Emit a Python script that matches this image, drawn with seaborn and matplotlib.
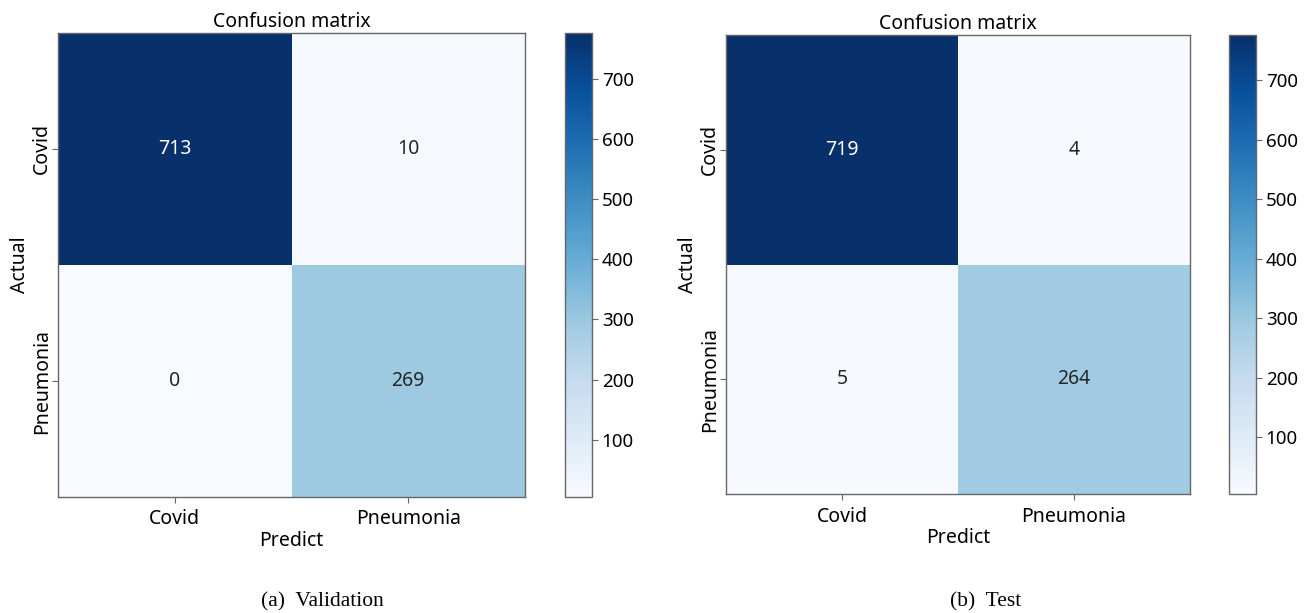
import numpy as np
import pandas as pd
import matplotlib
matplotlib.use("Agg")
import matplotlib.pyplot as plt
import matplotlib.colors as mcolors
import matplotlib.cm as cm
import seaborn as sns

# ---- data ----
classes = ["Covid", "Pneumonia"]
val_matrix = [[713, 10], [0, 269]]
test_matrix = [[719, 4], [5, 264]]
panel_title = "Confusion matrix"
captions = ["(a)  Validation", "(b)  Test"]
xlabel = "Predict"
ylabel = "Actual"
cbar_ticks = [100, 200, 300, 400, 500, 600, 700]
cbar_min, cbar_max = 5, 776
cell_min, cell_max = 0, 715

plt.rcParams['font.family'] = ['Noto Sans', 'DejaVu Sans']

W, H = 1309, 613
fig = plt.figure(figsize=(W / 100, H / 100), dpi=100)


def rect(x0, y0, x1, y1):
    return [x0 / W, 1 - y1 / H, (x1 - x0) / W, (y1 - y0) / H]


layouts = [
    dict(heat=(58, 33, 525, 497), cbar=(565, 33, 592, 497), cap_x=322),
    dict(heat=(726, 35, 1190, 494), cbar=(1229, 35, 1256, 494), cap_x=986),
]
matrices = [val_matrix, test_matrix]
edge = "#666666"

for mat, lay, cap in zip(matrices, layouts, captions):
    ax = fig.add_axes(rect(*lay["heat"]))
    cax = fig.add_axes(rect(*lay["cbar"]))
    df = pd.DataFrame(mat, index=classes, columns=classes)
    sns.heatmap(df, ax=ax, cbar=False, cmap="Blues", vmin=cell_min, vmax=cell_max,
                annot=True, fmt="d", annot_kws={"size": 14}, linewidths=0)
    for s in ax.spines.values():
        s.set_visible(True)
        s.set_color(edge)
        s.set_linewidth(1.0)
    ax.set_title(panel_title, fontsize=14, pad=4)
    ax.set_xlabel(xlabel, fontsize=14, labelpad=1)
    ax.set_ylabel(ylabel, fontsize=14, labelpad=1)
    ax.set_xticklabels(classes, rotation=0, fontsize=14)
    ax.set_yticklabels(classes, rotation=90, va="center", fontsize=14)
    ax.tick_params(axis="x", length=4, width=0.8, color=edge, pad=5)
    ax.tick_params(axis="y", length=4, width=0.8, color=edge, pad=0.5)

    sm = cm.ScalarMappable(norm=mcolors.Normalize(cbar_min, cbar_max), cmap="Blues")
    cb = fig.colorbar(sm, cax=cax)
    cb.set_ticks(cbar_ticks)
    cb.outline.set_edgecolor(edge)
    cb.outline.set_linewidth(1.0)
    cax.tick_params(labelsize=13.5, length=4, width=0.8, color=edge, pad=3)

    fig.text(lay["cap_x"] / W, 1 - 602 / H, cap, ha="center", va="center",
             fontsize=15.5, family=["Liberation Serif", "DejaVu Serif"])

fig.savefig("out.png", dpi=100, facecolor="white")
